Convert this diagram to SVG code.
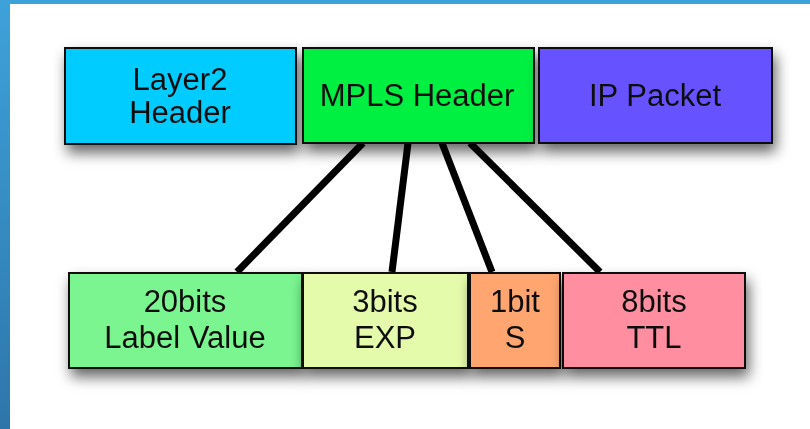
<svg xmlns="http://www.w3.org/2000/svg" width="810" height="429" viewBox="0 0 810 429">
  <defs>
    <linearGradient id="frameGrad" x1="0" y1="0" x2="0" y2="1">
      <stop offset="0" stop-color="#3ea2da"/>
      <stop offset="1" stop-color="#2d76aa"/>
    </linearGradient>
    <filter id="shadow" x="-15%" y="-30%" width="140%" height="180%">
      <feDropShadow dx="3" dy="8" stdDeviation="7" flood-color="#000" flood-opacity="0.6"/>
    </filter>
  </defs>
  <style>
    .box { stroke: #111; stroke-width: 2; }
    .lbl { font-family: "Liberation Sans", Arial, sans-serif; font-size: 31px; fill: #111; text-anchor: middle; }
    .link { stroke: #000; stroke-width: 7; stroke-linecap: butt; fill: none; }
  </style>

  <!-- page and frame -->
  <rect x="0" y="0" width="810" height="429" fill="#ffffff"/>
  <rect x="0" y="0" width="810" height="4" fill="#3ea2da"/>
  <rect x="0" y="0" width="10" height="429" fill="url(#frameGrad)"/>

  <!-- connectors from the MPLS header to its fields -->
  <g id="connectors">
    <line class="link" x1="363" y1="143" x2="237" y2="272"/>
    <line class="link" x1="408" y1="143" x2="392" y2="272"/>
    <line class="link" x1="442" y1="143" x2="492" y2="272"/>
    <line class="link" x1="470" y1="143" x2="600" y2="272"/>
  </g>

  <!-- top row: frame layout -->
  <g id="layer2-header" filter="url(#shadow)">
    <rect class="box" x="65" y="48" width="231" height="96" fill="#00ccff"/>
    <text class="lbl" x="180" y="90">Layer2</text>
    <text class="lbl" x="180" y="123">Header</text>
  </g>
  <g id="mpls-header" filter="url(#shadow)">
    <rect class="box" x="303" y="48" width="231" height="95" fill="#00f043"/>
    <text class="lbl" x="417" y="106">MPLS Header</text>
  </g>
  <g id="ip-packet" filter="url(#shadow)">
    <rect class="box" x="539" y="48" width="233" height="95" fill="#6652ff"/>
    <text class="lbl" x="655" y="106">IP Packet</text>
  </g>

  <!-- bottom row: MPLS header fields -->
  <g id="label-value" filter="url(#shadow)">
    <rect class="box" x="69" y="273" width="233" height="95" fill="#7af590"/>
    <text class="lbl" x="185" y="312">20bits</text>
    <text class="lbl" x="185" y="348">Label Value</text>
  </g>
  <g id="exp" filter="url(#shadow)">
    <rect class="box" x="303" y="273" width="165" height="95" fill="#e5fbac"/>
    <text class="lbl" x="385" y="312">3bits</text>
    <text class="lbl" x="385" y="348">EXP</text>
  </g>
  <g id="s-bit" filter="url(#shadow)">
    <rect class="box" x="470" y="273" width="90" height="95" fill="#ffa670"/>
    <text class="lbl" x="515" y="312">1bit</text>
    <text class="lbl" x="515" y="348">S</text>
  </g>
  <g id="ttl" filter="url(#shadow)">
    <rect class="box" x="563" y="273" width="182" height="95" fill="#ff8ea1"/>
    <text class="lbl" x="654" y="312">8bits</text>
    <text class="lbl" x="654" y="348">TTL</text>
  </g>
</svg>
